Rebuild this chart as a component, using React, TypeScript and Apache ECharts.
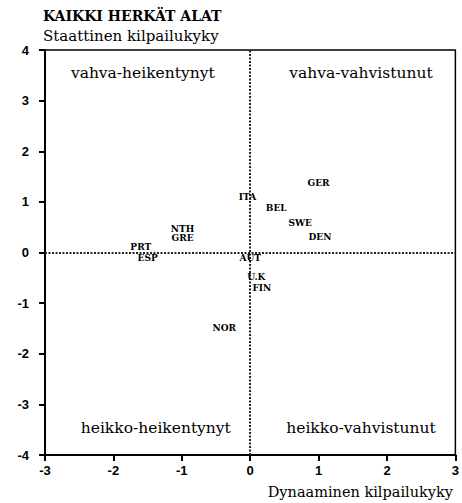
import React, { useEffect, useRef } from "react";
import * as echarts from "echarts";

const countries = ["GER", "ITA", "BEL", "SWE", "DEN", "AUT", "NTH", "GRE", "PRT", "ESP", "U.K", "FIN", "NOR"];
const dynamicValues = [1.0, -0.04, 0.38, 0.73, 1.02, 0.0, -0.99, -0.99, -1.6, -1.5, 0.09, 0.17, -0.38];
const staticValues = [1.38, 1.09, 0.87, 0.59, 0.3, -0.1, 0.47, 0.28, 0.1, -0.11, -0.49, -0.71, -1.5];

const quadrantNames = ["vahva-heikentynyt", "vahva-vahvistunut", "heikko-heikentynyt", "heikko-vahvistunut"];
const quadrantX = [-1.57, 1.62, -1.38, 1.62];
const quadrantY = [3.54, 3.54, -3.46, -3.46];

const xTicks = [-3, -2, -1, 0, 1, 2, 3];
const yTicks = [-4, -3, -2, -1, 0, 1, 2, 3, 4];

const serif = "DejaVu Serif";
const sans = "Liberation Sans";

export default function App() {
  const ref = useRef<HTMLDivElement>(null);
  useEffect(() => {
    if (!ref.current) return;
    const chart = echarts.init(ref.current, null, { renderer: "svg" });
    chart.setOption({
      animation: false,
      backgroundColor: "#fff",
      title: {
        text: "KAIKKI HERKÄT ALAT",
        subtext: "Staattinen kilpailukyky",
        left: 38,
        top: 4,
        itemGap: 5,
        textStyle: { fontFamily: serif, fontWeight: "bold", fontSize: 14, color: "#000" },
        subtextStyle: { fontFamily: serif, fontSize: 15, color: "#000" },
      },
      grid: {
        left: 45,
        right: 5,
        top: 50,
        bottom: 48,
        show: true,
        borderColor: "#000",
        borderWidth: 1.5,
      },
      xAxis: {
        type: "value",
        min: xTicks[0],
        max: xTicks[xTicks.length - 1],
        interval: 1,
        splitLine: { show: false },
        axisLine: { show: true, onZero: false, lineStyle: { color: "#000", width: 2 } },
        axisTick: { show: true, length: 6, lineStyle: { color: "#000", width: 2 } },
        axisLabel: { fontFamily: sans, fontWeight: "bold", fontSize: 13, color: "#000", margin: 9 },
      },
      yAxis: {
        type: "value",
        min: yTicks[0],
        max: yTicks[yTicks.length - 1],
        interval: 1,
        splitLine: { show: false },
        axisLine: { show: true, onZero: false, lineStyle: { color: "#000", width: 2 } },
        axisTick: { show: true, length: 6, lineStyle: { color: "#000", width: 2 } },
        axisLabel: { fontFamily: sans, fontWeight: "bold", fontSize: 13, color: "#000", margin: 16 },
      },
      graphic: [
        {
          type: "text",
          right: 9,
          top: 484,
          style: { text: "Dynaaminen kilpailukyky", fontFamily: serif, fontSize: 14.5, fill: "#000" },
        },
      ],
      series: [
        {
          type: "scatter",
          symbolSize: 1,
          itemStyle: { color: "rgba(0,0,0,0)", opacity: 1 },
          data: countries.map((c, i) => [dynamicValues[i], staticValues[i], c]),
          label: {
            show: true,
            position: "inside",
            formatter: (p: any) => p.value[2],
            fontFamily: serif,
            fontWeight: "bold",
            fontSize: 9,
            color: "#000",
            opacity: 1,
          },
          markLine: {
            silent: true,
            symbol: "none",
            label: { show: false },
            lineStyle: { type: [2, 1.5], color: "#222", width: 2, opacity: 1 },
            data: [{ xAxis: 0 }, { yAxis: 0 }],
          },
          z: 5,
        },
        {
          type: "scatter",
          symbolSize: 1,
          itemStyle: { color: "rgba(0,0,0,0)", opacity: 1 },
          data: quadrantNames.map((q, i) => [quadrantX[i], quadrantY[i], q]),
          label: {
            show: true,
            position: "inside",
            formatter: (p: any) => p.value[2],
            fontFamily: serif,
            fontSize: 15.5,
            color: "#000",
            opacity: 1,
          },
        },
      ],
    });
    return () => chart.dispose();
  }, []);
  return <div ref={ref} style={{ position: "fixed", left: 0, top: 0, width: 462, height: 503 }} />;
}
